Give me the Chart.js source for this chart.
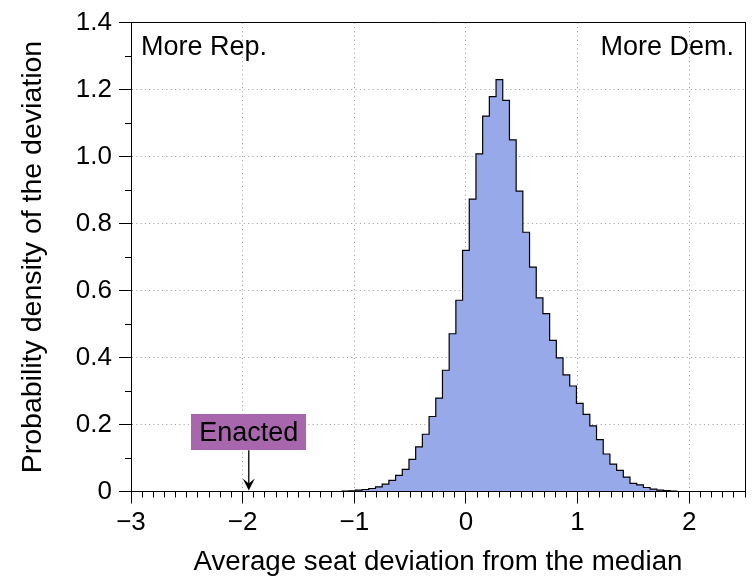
<!DOCTYPE html>
<html>
<head>
<meta charset="utf-8">
<title>Seat deviation histogram</title>
<script src="https://cdn.jsdelivr.net/npm/chart.js@4.4.1/dist/chart.umd.min.js"></script>
<style>
  html, body { margin: 0; padding: 0; background: #fff; }
  canvas { display: block; }
</style>
</head>
<body>
<canvas id="chart" width="755" height="579"></canvas>
<script>
// === Datos ===
const binCenters = [
  -1.08, -1.02, -0.96, -0.90, -0.84, -0.78, -0.72, -0.66, -0.60, -0.54,
  -0.48, -0.42, -0.36, -0.30, -0.24, -0.18, -0.12, -0.06,  0.00,  0.06,
   0.12,  0.18,  0.24,  0.30,  0.36,  0.42,  0.48,  0.54,  0.60,  0.66,
   0.72,  0.78,  0.84,  0.90,  0.96,  1.02,  1.08,  1.14,  1.20,  1.26,
   1.32,  1.38,  1.44,  1.50,  1.56,  1.62,  1.68,  1.74,  1.80,  1.86
];
const density = [
  0.001, 0.002, 0.004, 0.006, 0.009, 0.014, 0.022, 0.033, 0.048, 0.066,
  0.096, 0.133, 0.171, 0.224, 0.279, 0.362, 0.471, 0.571, 0.720, 0.873,
  1.008, 1.121, 1.179, 1.230, 1.168, 1.050, 0.897, 0.774, 0.670, 0.578,
  0.531, 0.451, 0.399, 0.348, 0.315, 0.263, 0.230, 0.196, 0.155, 0.112,
  0.082, 0.063, 0.043, 0.024, 0.020, 0.012, 0.007, 0.004, 0.003, 0.001
];
const binWidth = 0.06;

const xMajor = [-3, -2, -1, 0, 1, 2];
const yMajor = [0, 0.2, 0.4, 0.6, 0.8, 1.0, 1.2, 1.4];
const xRange = [-3, 2.5];
const yRange = [0, 1.4];

const enacted = -1.945;       // posición de la flecha
const enactedLabelY = 0.177;  // centro vertical de la etiqueta
const enactedLabel = 'Enacted';
const cornerLabels = ['More Rep.', 'More Dem.'];

const xTitle = 'Average seat deviation from the median';
const yTitle = 'Probability density of the deviation';

// === Estilo ===
const FONT = '"Liberation Sans", Arial, Helvetica, sans-serif';
const tickFont = { family: FONT, size: 26 };
const FILL = '#98a9e9';
const BOX = '#a866ac';
const GRID = '#9a9a9a';

// contorno escalonado: borde izquierdo de cada clase y cierre a 0
const pts = [{ x: binCenters[0] - binWidth / 2, y: 0 }];
binCenters.forEach((c, i) => pts.push({ x: c - binWidth / 2, y: density[i] }));
pts.push({ x: binCenters[binCenters.length - 1] + binWidth / 2, y: 0 });

function fmtX(v) { return v < 0 ? '\u2212' + Math.abs(v) : String(v); }
function fmtY(v) { return v === 0 ? '0' : Number(v).toFixed(1); }
function gridColor(range) {
  return c => (c.tick && (c.tick.value === range[0] || c.tick.value === range[1])) ? 'rgba(0,0,0,0)' : GRID;
}

// etiquetas de texto y flecha de "Enacted"
const notes = {
  id: 'notes',
  afterDraw(chart) {
    const { ctx, chartArea: a, scales: { x, y } } = chart;
    ctx.save();
    ctx.font = `27px ${FONT}`;
    ctx.fillStyle = '#000';
    ctx.textBaseline = 'alphabetic';
    ctx.textAlign = 'left';
    ctx.fillText(cornerLabels[0], a.left + 10, a.top + 32);
    ctx.textAlign = 'right';
    ctx.fillText(cornerLabels[1], a.right - 11, a.top + 32);

    const ex = x.getPixelForValue(enacted);
    const ly = y.getPixelForValue(enactedLabelY);
    const y0 = y.getPixelForValue(0);
    const w = ctx.measureText(enactedLabel).width + 16;
    const h = 36;
    ctx.fillStyle = BOX;
    ctx.fillRect(Math.round(ex - w / 2), Math.round(ly - h / 2), Math.round(w), h);
    ctx.fillStyle = '#000';
    ctx.textAlign = 'center';
    ctx.textBaseline = 'middle';
    ctx.fillText(enactedLabel, ex, ly + 1);

    ctx.strokeStyle = '#000';
    ctx.lineWidth = 1.3;
    ctx.beginPath();
    ctx.moveTo(ex, ly + h / 2);
    ctx.lineTo(ex, y0 - 6);
    ctx.stroke();
    ctx.beginPath();
    ctx.moveTo(ex, y0 - 1);
    ctx.lineTo(ex - 6, y0 - 13);
    ctx.lineTo(ex, y0 - 8);
    ctx.lineTo(ex + 6, y0 - 13);
    ctx.closePath();
    ctx.fill();
    ctx.restore();
  }
};

const frameAxis = (pos, range) => ({
  type: 'linear', position: pos, display: true,
  min: range[0], max: range[1],
  ticks: { display: false },
  grid: { drawOnChartArea: false, drawTicks: false },
  border: { display: true, color: '#000', width: 1, z: 1 },
  afterFit: s => { if (pos === 'top') s.height = 0; else s.width = 0; }
});

const minorAxis = (pos, range, step) => ({
  type: 'linear', position: pos, display: true, weight: 0,
  min: range[0], max: range[1],
  ticks: { display: false, stepSize: step },
  grid: { drawOnChartArea: false, drawTicks: true, tickLength: 6, tickColor: '#000', tickWidth: 1 },
  border: { display: false },
  afterFit: s => { if (pos === 'bottom') s.height = 0; else s.width = 0; }
});

new Chart(document.getElementById('chart'), {
  type: 'line',
  data: {
    datasets: [{
      data: pts,
      stepped: 'before',
      fill: 'origin',
      backgroundColor: FILL,
      borderColor: '#000',
      borderWidth: 1.2,
      pointRadius: 0,
      tension: 0
    }]
  },
  options: {
    responsive: false,
    animation: false,
    events: [],
    layout: { padding: { top: 18, right: 10, left: 0, bottom: 0 } },
    plugins: { legend: { display: false }, tooltip: { enabled: false } },
    scales: {
      x: {
        type: 'linear', position: 'bottom', weight: 1,
        min: xRange[0], max: xRange[1],
        afterBuildTicks: s => { s.ticks = xMajor.map(v => ({ value: v })); },
        afterFit: s => { s.height = 87.5; },
        grid: { color: gridColor(xRange), lineWidth: 1, drawTicks: true, tickLength: 12, tickColor: '#000', tickWidth: 1 },
        border: { display: true, color: '#000', width: 1, dash: [1, 3.3], z: 1 },
        ticks: { color: '#000', font: tickFont, padding: 4, maxRotation: 0, autoSkip: false, callback: v => fmtX(v) },
        title: { display: true, text: xTitle, color: '#000', font: { family: FONT, size: 27.7 }, padding: { top: 0, bottom: 0 } }
      },
      y: {
        type: 'linear', position: 'left', weight: 1,
        min: yRange[0], max: yRange[1],
        afterBuildTicks: s => { s.ticks = yMajor.map(v => ({ value: v })); },
        afterFit: s => { s.width = 131; },
        grid: { color: gridColor(yRange), lineWidth: 1, drawTicks: true, tickLength: 12, tickColor: '#000', tickWidth: 1 },
        border: { display: true, color: '#000', width: 1, dash: [1, 3.3], z: 1 },
        ticks: { color: '#000', font: tickFont, padding: 7, autoSkip: false, callback: v => fmtY(v) },
        title: { display: true, text: yTitle, color: '#000', font: { family: FONT, size: 28.5 }, padding: { top: 16, bottom: 0 } }
      },
      xMinor: minorAxis('bottom', xRange, 0.1),
      yMinor: minorAxis('left', yRange, 0.1),
      xTop: frameAxis('top', xRange),
      yRight: frameAxis('right', yRange)
    }
  },
  plugins: [notes]
});
</script>
</body>
</html>
